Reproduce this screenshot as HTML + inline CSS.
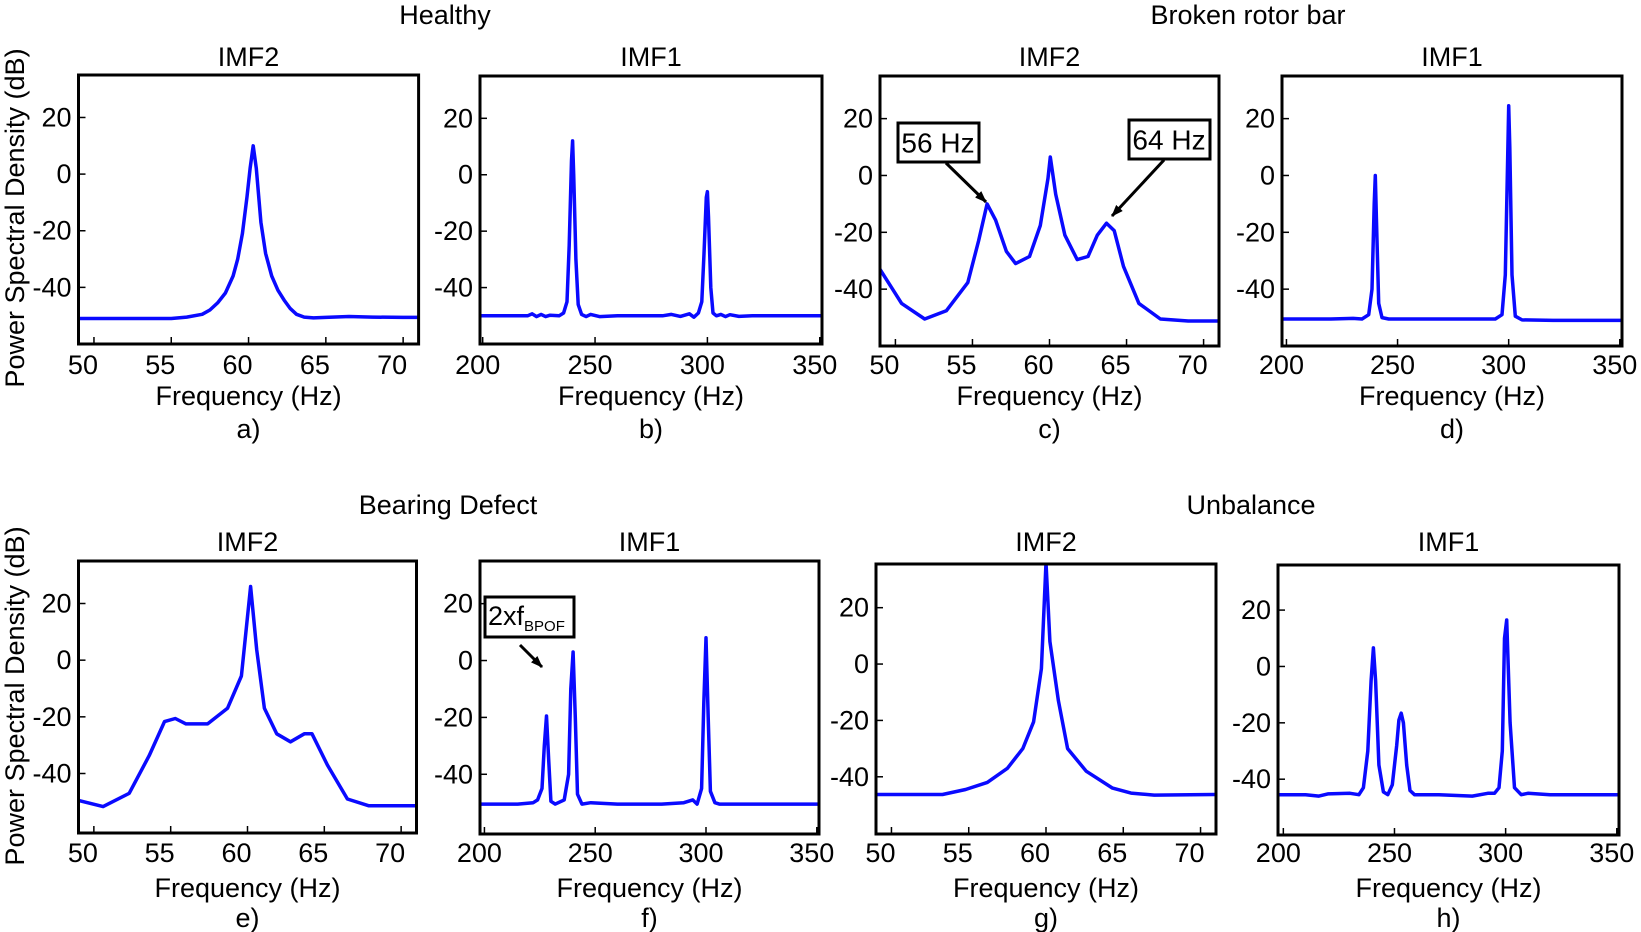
<!DOCTYPE html>
<html><head><meta charset="utf-8"><style>
html,body{margin:0;padding:0;background:#fff;}
svg{display:block;font-family:"Liberation Sans",Arial,sans-serif;}
</style></head><body>
<svg id="fig" width="1641" height="932" viewBox="0 0 1641 932" xmlns="http://www.w3.org/2000/svg">
<defs>
<marker id="ah" markerWidth="12" markerHeight="9" refX="11" refY="4.5" orient="auto" markerUnits="userSpaceOnUse"><path d="M0,0 L12,4.5 L0,9 z" fill="#000"/></marker>
</defs>
<g id="root"></g>
</svg>
<script>
// ---- data (frequency in Hz, PSD in dB) ----
const freqA = [49,52,55,56,57,57.5,58,58.5,59,59.3,59.6,59.9,60.1,60.3,60.5,60.8,61.1,61.5,61.9,62.3,62.7,63.1,63.6,64.2,65,66.5,68,70,71];
const psdA  = [-51,-51,-51,-50.5,-49.5,-48,-45.5,-42,-36,-30,-21,-8,2,10,2,-17,-28,-36,-41,-44.5,-47.5,-49.5,-50.5,-50.8,-50.6,-50.3,-50.5,-50.6,-50.6];
const freqB = [198.8,210,220,222,224,226,228,230,234,236,237.5,238.5,239.5,240,240.5,241.5,242.5,244,246,248,252,260,270,280,284,288,292,294,296,297.5,298.5,299.5,300,300.5,301.5,302.5,304,306,308,310,314,320,330,340,351];
const psdB  = [-50,-50,-50,-49.3,-50.3,-49.5,-50.3,-49.8,-50,-49,-45,-25,5,12,0,-30,-46,-49.5,-50.3,-49.5,-50.3,-50,-50,-50,-49.5,-50.2,-49.3,-50.5,-49,-45,-28,-8,-6,-15,-40,-49,-50,-49.5,-50.3,-49.6,-50.2,-50,-50,-50,-50];
const freqC = [49,50.4,51.9,53.3,54.7,55.4,55.95,56.5,57.2,57.8,58.7,59.4,59.9,60.05,60.4,61,61.8,62.5,63.1,63.7,64.2,64.8,65.8,67.2,69,71];
const psdC  = [-33,-45,-50.5,-47.6,-37.7,-23,-10,-15.7,-26.7,-31,-28.5,-17.6,-1,6.5,-6.6,-21,-29.6,-28.5,-21,-16.8,-19.4,-32,-45,-50.5,-51.2,-51.2];
const freqD = [198,220,230,234,237,238.5,239.5,240,240.5,241.5,243,246,260,280,294,297,298.5,299.5,300,300.5,301.5,303,306,320,351];
const psdD  = [-50.5,-50.5,-50.3,-50.5,-49,-40,-10,0,-15,-45,-50,-50.5,-50.5,-50.5,-50.5,-49,-35,5,24.5,10,-35,-49.5,-50.8,-51,-51];
const freqE = [49,50.6,52.3,53.6,54.6,55.3,56,57.4,58.7,59.6,60.2,60.6,61.1,61.9,62.8,63.7,64.2,65.2,66.5,67.9,71];
const psdE  = [-49.5,-51.7,-47,-33.7,-21.7,-20.6,-22.5,-22.5,-17,-5.6,26,3.7,-17,-26,-28.8,-26,-26,-37,-49,-51.4,-51.4];
const freqF = [198,215,222,224,226,227,228,229,230,232,236,238,239,240,241,242,244,248,260,280,290,294,296,298,299,300,301,302,304,306,310,330,351];
const psdF  = [-50.5,-50.5,-50,-49,-45,-30,-19.5,-35,-49.5,-50.5,-49,-40,-10,3,-20,-47,-50.5,-50,-50.5,-50.5,-50,-49,-50.5,-45,-15,8,-20,-46,-50,-50.5,-50.5,-50.5,-50.5];
const freqG = [49,53.3,54.8,56.2,57.5,58.5,59.2,59.7,60.0,60.25,60.8,61.4,62.6,64.3,65.5,67,70.9];
const psdG  = [-46.3,-46.3,-44.5,-42,-37,-30,-20.5,-1.6,36,8,-13,-30,-38,-44,-45.8,-46.5,-46.3];
const freqH = [197.6,210,216,220,230,234,236,238,239.5,240.5,241.5,243,245,247,249,251,252,253,254,255.5,257,259,270,285,292,295,297,298.5,299.5,300.5,302,304,307,310,320,351];
const psdH  = [-45.5,-45.5,-46,-45.2,-45,-45.5,-43,-30,-5,6.6,-5,-35,-44.5,-45.5,-42,-28,-19,-16.6,-20,-35,-44,-45.5,-45.5,-46,-45,-45,-43,-30,10,16.5,-20,-43,-45.5,-45,-45.5,-45.5];
const lowTicks = [50,55,60,65,70];
const highTicks = [200,250,300,350];
const yTicks = [20,0,-20,-40];

const NS = "http://www.w3.org/2000/svg";
const root = document.getElementById('root');
const FS = 27;
function mk(tag, attrs, parent){
  const e = document.createElementNS(NS, tag);
  for (const k in attrs) e.setAttribute(k, attrs[k]);
  (parent||root).appendChild(e);
  return e;
}
function txt(x,y,s,size,anchor,parent){
  const t = mk('text',{x:x,y:y,'font-size':size,'text-anchor':anchor||'middle','dominant-baseline':'central',fill:'#000'},parent);
  t.textContent = s; return t;
}

const panels = [
 {id:'a',x0:78.5,x1:418.6,y0:75,y1:344,xr:[49,71],yr:[-60,35],ticks:lowTicks,off:-11,f:freqA,p:psdA,title:'IMF2',row:0},
 {id:'b',x0:480,x1:822,y0:76,y1:344,xr:[198.8,351],yr:[-60,35],ticks:highTicks,off:-5,f:freqB,p:psdB,title:'IMF1',row:0},
 {id:'c',x0:880,x1:1219,y0:76,y1:346,xr:[49,71],yr:[-60,35],ticks:lowTicks,off:-11,f:freqC,p:psdC,title:'IMF2',row:0},
 {id:'d',x0:1282,x1:1622,y0:76,y1:346,xr:[198,351],yr:[-60,35],ticks:highTicks,off:-5,f:freqD,p:psdD,title:'IMF1',row:0},
 {id:'e',x0:78.5,x1:416.5,y0:561,y1:833,xr:[49,71],yr:[-61,35],ticks:lowTicks,off:-11,f:freqE,p:psdE,title:'IMF2',row:1},
 {id:'f',x0:480,x1:819,y0:561,y1:834,xr:[198,351],yr:[-61,35],ticks:highTicks,off:-5,f:freqF,p:psdF,title:'IMF1',row:1},
 {id:'g',x0:876,x1:1216,y0:564,y1:834,xr:[49,71],yr:[-60.3,35.5],ticks:lowTicks,off:-11,f:freqG,p:psdG,title:'IMF2',row:1},
 {id:'h',x0:1278,x1:1619,y0:565,y1:835,xr:[197.6,351],yr:[-59.8,36],ticks:highTicks,off:-5,f:freqH,p:psdH,title:'IMF1',row:1}
];
const rowY = [{tick:365,lab:396,letter:429,title:57},{tick:853,lab:888,letter:918,title:542}];

panels.forEach(P=>{
  const g = mk('g',{});
  
  
  const sx = v => P.x0 + (v - P.xr[0]) / (P.xr[1]-P.xr[0]) * (P.x1-P.x0);
  const sy = v => P.y1 - (v - P.yr[0]) / (P.yr[1]-P.yr[0]) * (P.y1-P.y0);
  const R = rowY[P.row];
  const cp = mk('clipPath',{id:'clip'+P.id},g);
  mk('rect',{x:P.x0,y:P.y0,width:P.x1-P.x0,height:P.y1-P.y0},cp);
  const n = Math.min(P.f.length,P.p.length);
  let pts = [];
  for (let i=0;i<n;i++) pts.push(sx(P.f[i]).toFixed(1)+','+sy(P.p[i]).toFixed(1));
  const line = mk('polyline',{points:pts.join(' '),fill:'none',stroke:'#0a0aff','stroke-width':3.5,'stroke-linejoin':'round','clip-path':'url(#clip'+P.id+')'},g);
  
  
  const box = mk('rect',{x:P.x0,y:P.y0,width:P.x1-P.x0,height:P.y1-P.y0,fill:'none',stroke:'#000','stroke-width':3},g);
  
  
  P.ticks.forEach(t=>{
    const x = sx(t);
    if (x>P.x0+2 && x<P.x1-2) mk('line',{x1:x,x2:x,y1:P.y1,y2:P.y1-7,stroke:'#000','stroke-width':1.5},g);
    const l = txt(x+P.off, R.tick, String(t), FS, 'middle', g);
    
    
  });
  yTicks.forEach(t=>{
    const y = sy(t);
    mk('line',{x1:P.x0,x2:P.x0+7,y1:y,y2:y,stroke:'#000','stroke-width':1.5},g);
    const l = txt(P.x0-7, y, String(t), FS, 'end', g);
    
    
  });
  const cx = (P.x0+P.x1)/2;
  const xl = txt(cx, R.lab, 'Frequency (Hz)', FS, 'middle', g);
  
  
  const lt = txt(cx, R.letter, P.id+')', FS, 'middle', g);
  
  
  const tt = txt(cx, R.title, P.title, FS, 'middle', g);
  
  
});

[['Healthy',445,15],['Broken rotor bar',1248,15],['Bearing Defect',448,505],['Unbalance',1251,505]].forEach(s=>{
  const t = txt(s[1], s[2], s[0], FS, 'middle');
  
  
});
[218,696].forEach(y=>{
  const t = txt(0,0,'Power Spectral Density (dB)',FS,'middle');
  t.setAttribute('transform','translate(15,'+y+') rotate(-90)');
  
  
});

function annot(bx,by,bw,bh,ax1,ay1,ax2,ay2,name){
  const g = mk('g',{});
  
  
  mk('rect',{x:bx,y:by,width:bw,height:bh,fill:'#fff',stroke:'#000','stroke-width':3},g);
  mk('line',{x1:ax1,y1:ay1,x2:ax2,y2:ay2,stroke:'#000','stroke-width':3,'marker-end':'url(#ah)'},g);
  return g;
}
let g1 = annot(898,123,81,39,946,163,986,202,'annotation-56hz');
txt(938,143,'56 Hz',28,'middle',g1);
let g2 = annot(1129,120,81,39,1164,160,1112,216,'annotation-64hz');
txt(1169,140,'64 Hz',28,'middle',g2);
let g3 = annot(485,597,89,40,520,645,542,667,'annotation-2xfbpof');
const t3 = mk('text',{x:488,y:625,'font-size':27,fill:'#000'},g3);
t3.innerHTML = '2xf<tspan font-size="15" dy="6">BPOF</tspan>';
</script>
</body></html>
